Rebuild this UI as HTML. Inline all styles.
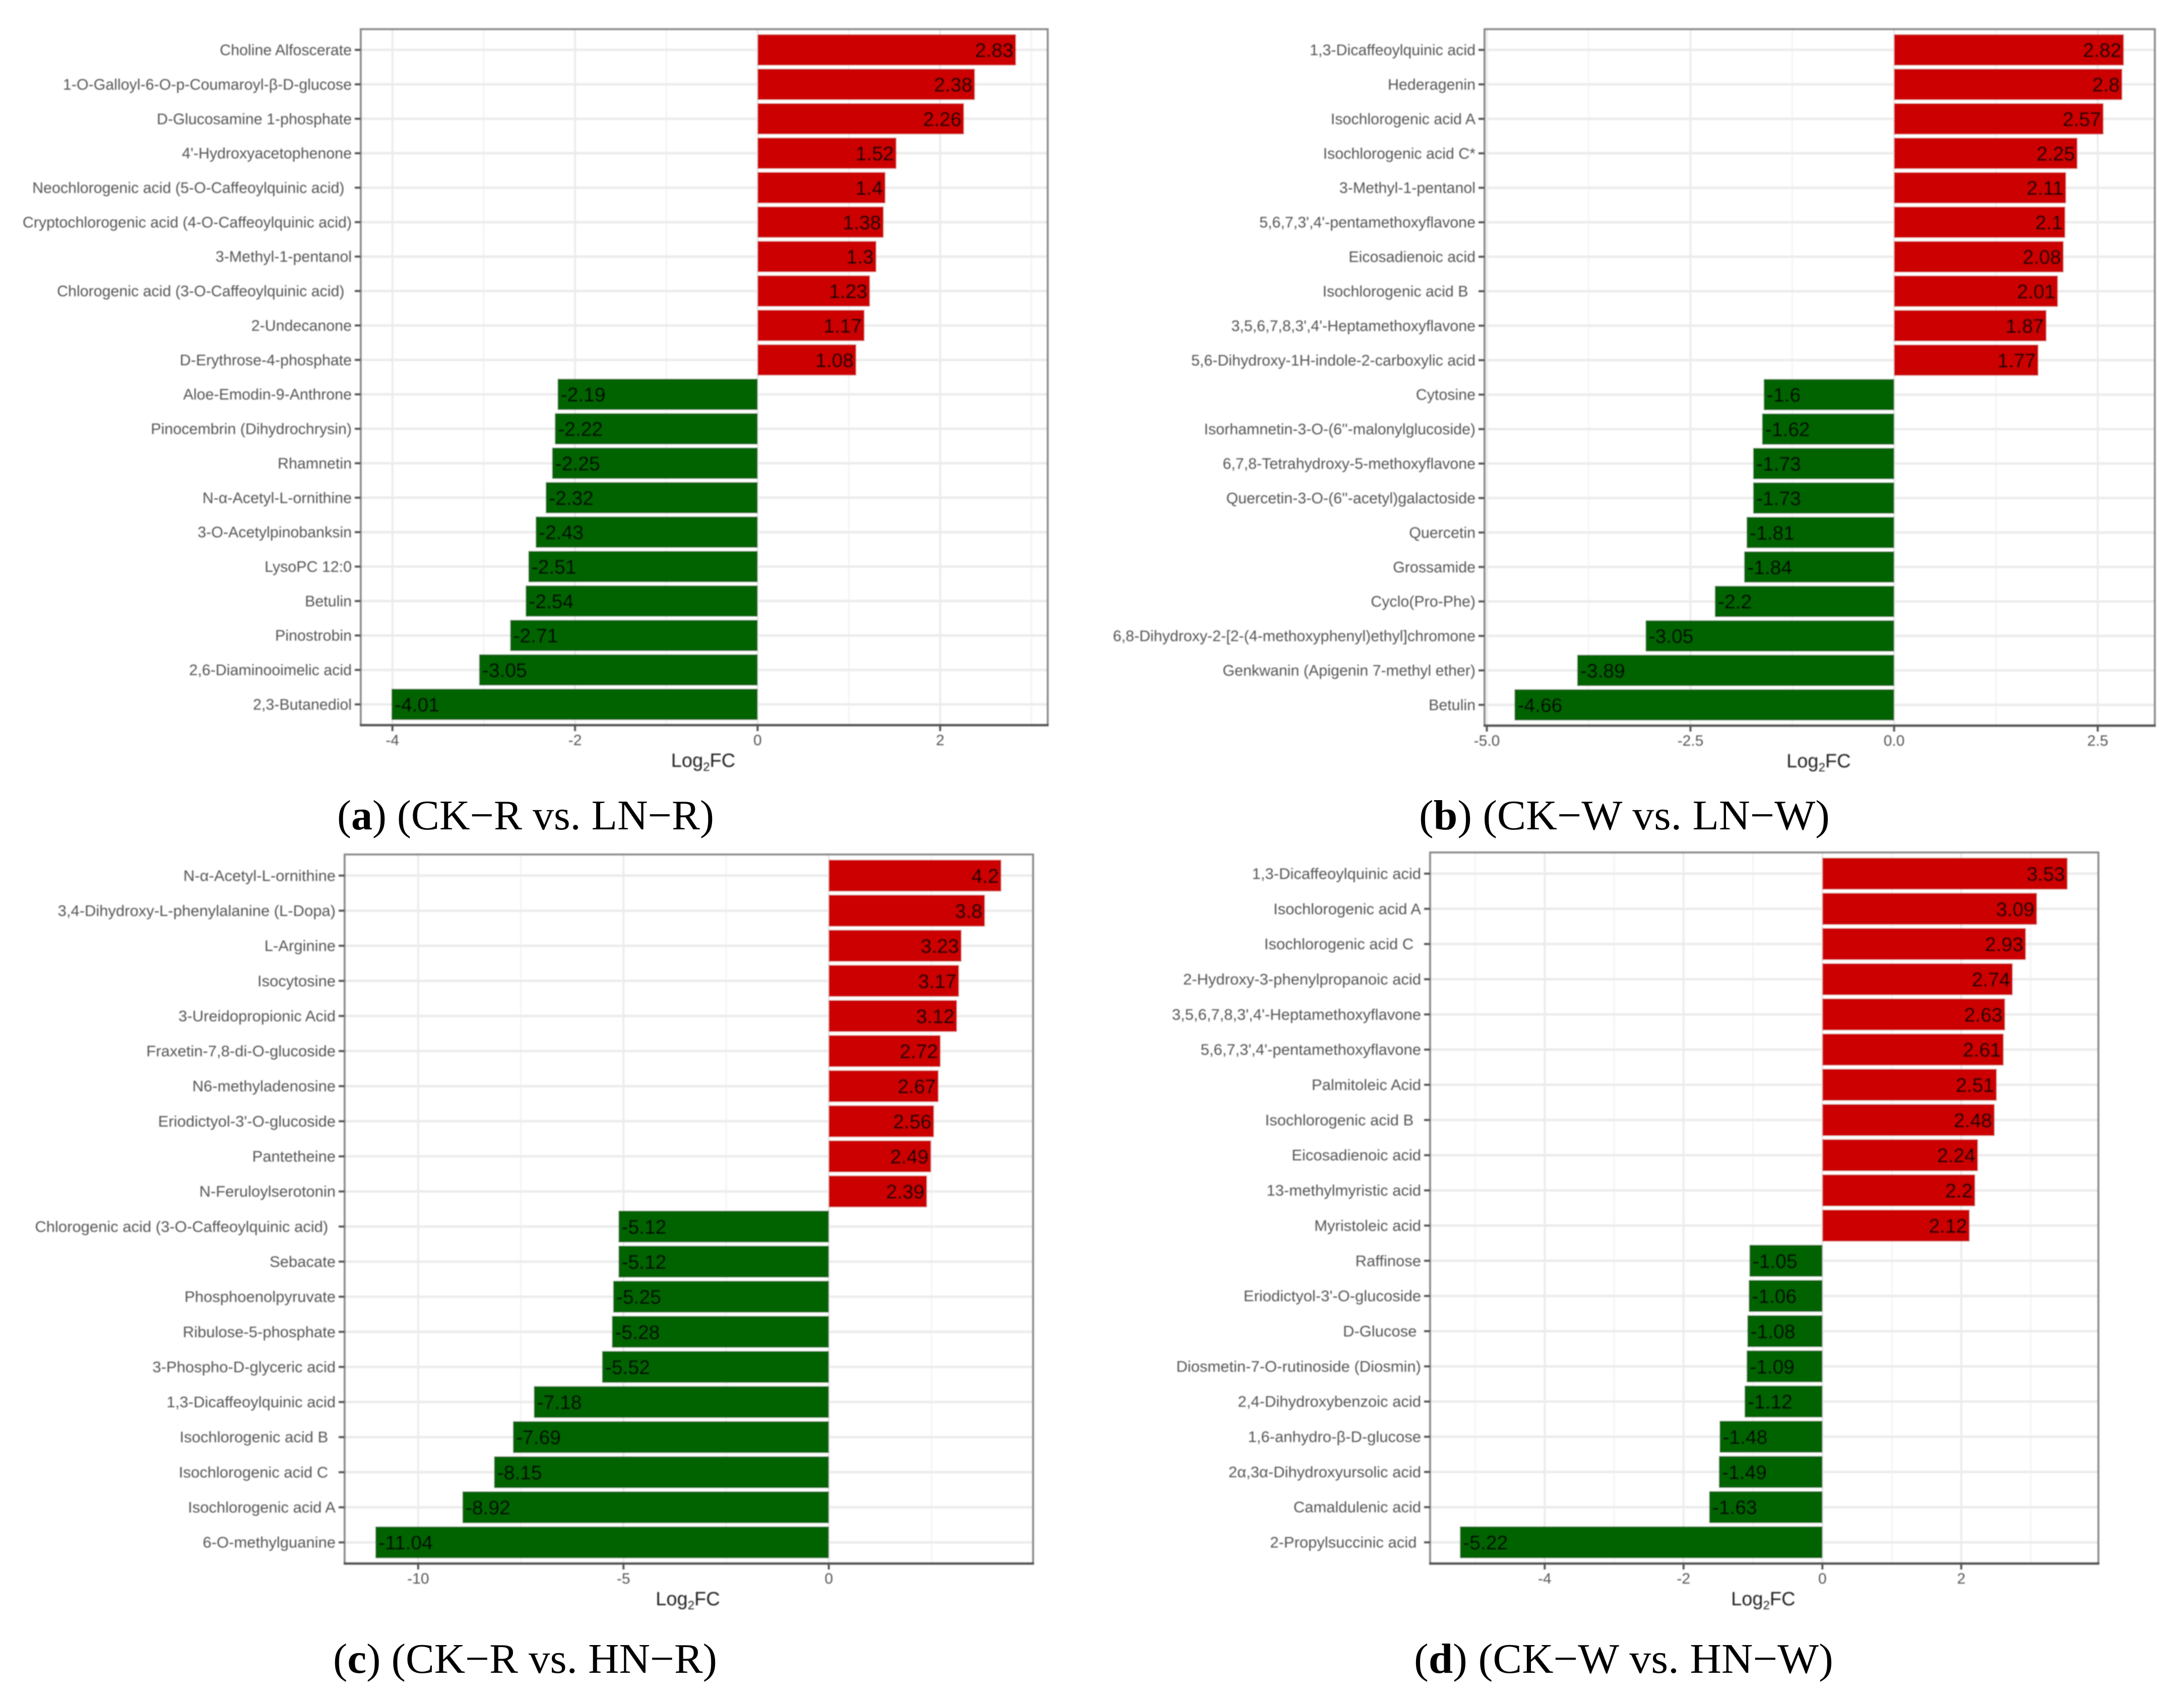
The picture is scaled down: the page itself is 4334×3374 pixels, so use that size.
<!DOCTYPE html>
<html lang="en">
<head>
<meta charset="utf-8">
<title>Differential metabolites Log2FC bar charts</title>
<style>
html,body{margin:0;padding:0;background:#fff;}
body{width:4334px;height:3374px;overflow:hidden;}
svg{display:block;}
.cat{font-family:"Liberation Sans",sans-serif;fill:#555;text-anchor:end;}
.tick{font:30px "Liberation Sans",sans-serif;fill:#555;text-anchor:middle;}
.val{font:39px "Liberation Sans",sans-serif;fill:#000;stroke:#000;stroke-width:.5px;}
.title{font:38px "Liberation Sans",sans-serif;fill:#222;text-anchor:middle;}
.cap{font:84px "Liberation Serif",serif;fill:#000;}
.cap .b{font-weight:bold;}
</style>
</head>
<body>
<svg id="figure" xmlns="http://www.w3.org/2000/svg" width="4334" height="3374" viewBox="0 0 4334 3374">
  <defs>
    <filter id="soft" filterUnits="userSpaceOnUse" x="0" y="0" width="4334" height="3374">
      <feGaussianBlur stdDeviation="1.1"/>
    </filter>
  </defs>
  <rect x="0" y="0" width="4334" height="3374" fill="#fff"/>
  <g id="charts" filter="url(#soft)"></g>
  <text class="cap" x="669" y="1646" textLength="748" lengthAdjust="spacingAndGlyphs">(<tspan class="b">a</tspan>) (CK−R vs. LN−R)</text>
  <text class="cap" x="2816" y="1646" textLength="815" lengthAdjust="spacingAndGlyphs">(<tspan class="b">b</tspan>) (CK−W vs. LN−W)</text>
  <text class="cap" x="661" y="3320" textLength="762" lengthAdjust="spacingAndGlyphs">(<tspan class="b">c</tspan>) (CK−R vs. HN−R)</text>
  <text class="cap" x="2806" y="3320" textLength="832" lengthAdjust="spacingAndGlyphs">(<tspan class="b">d</tspan>) (CK−W vs. HN−W)</text>
</svg>
<script>
const categoriesA = ["Choline Alfoscerate","1-O-Galloyl-6-O-p-Coumaroyl-β-D-glucose","D-Glucosamine 1-phosphate","4'-Hydroxyacetophenone","Neochlorogenic acid (5-O-Caffeoylquinic acid)\u00a0\u2009","Cryptochlorogenic acid (4-O-Caffeoylquinic acid)","3-Methyl-1-pentanol","Chlorogenic acid (3-O-Caffeoylquinic acid)\u00a0\u2009","2-Undecanone","D-Erythrose-4-phosphate","Aloe-Emodin-9-Anthrone","Pinocembrin (Dihydrochrysin)","Rhamnetin","N-α-Acetyl-L-ornithine","3-O-Acetylpinobanksin","LysoPC 12:0","Betulin","Pinostrobin","2,6-Diaminooimelic acid","2,3-Butanediol"];
const valuesA = [2.83,2.38,2.26,1.52,1.4,1.38,1.3,1.23,1.17,1.08,-2.19,-2.22,-2.25,-2.32,-2.43,-2.51,-2.54,-2.71,-3.05,-4.01];
const tickLabelsA = ["-4","-2","0","2"];

const categoriesB = ["1,3-Dicaffeoylquinic acid","Hederagenin","Isochlorogenic acid A","Isochlorogenic acid C*","3-Methyl-1-pentanol","5,6,7,3',4'-pentamethoxyflavone","Eicosadienoic acid","Isochlorogenic acid B\u00a0\u2009","3,5,6,7,8,3',4'-Heptamethoxyflavone","5,6-Dihydroxy-1H-indole-2-carboxylic acid","Cytosine","Isorhamnetin-3-O-(6''-malonylglucoside)","6,7,8-Tetrahydroxy-5-methoxyflavone","Quercetin-3-O-(6''-acetyl)galactoside","Quercetin","Grossamide","Cyclo(Pro-Phe)","6,8-Dihydroxy-2-[2-(4-methoxyphenyl)ethyl]chromone","Genkwanin (Apigenin 7-methyl ether)","Betulin"];
const valuesB = [2.82,2.8,2.57,2.25,2.11,2.1,2.08,2.01,1.87,1.77,-1.6,-1.62,-1.73,-1.73,-1.81,-1.84,-2.2,-3.05,-3.89,-4.66];
const tickLabelsB = ["-5.0","-2.5","0.0","2.5"];

const categoriesC = ["N-α-Acetyl-L-ornithine","3,4-Dihydroxy-L-phenylalanine (L-Dopa)","L-Arginine","Isocytosine","3-Ureidopropionic Acid","Fraxetin-7,8-di-O-glucoside","N6-methyladenosine","Eriodictyol-3'-O-glucoside","Pantetheine","N-Feruloylserotonin","Chlorogenic acid (3-O-Caffeoylquinic acid)\u00a0\u2009","Sebacate","Phosphoenolpyruvate","Ribulose-5-phosphate","3-Phospho-D-glyceric acid","1,3-Dicaffeoylquinic acid","Isochlorogenic acid B\u00a0\u2009","Isochlorogenic acid C\u00a0\u2009","Isochlorogenic acid A","6-O-methylguanine"];
const valuesC = [4.2,3.8,3.23,3.17,3.12,2.72,2.67,2.56,2.49,2.39,-5.12,-5.12,-5.25,-5.28,-5.52,-7.18,-7.69,-8.15,-8.92,-11.04];
const tickLabelsC = ["-10","-5","0"];

const categoriesD = ["1,3-Dicaffeoylquinic acid","Isochlorogenic acid A","Isochlorogenic acid C\u00a0\u2009","2-Hydroxy-3-phenylpropanoic acid","3,5,6,7,8,3',4'-Heptamethoxyflavone","5,6,7,3',4'-pentamethoxyflavone","Palmitoleic Acid","Isochlorogenic acid B\u00a0\u2009","Eicosadienoic acid","13-methylmyristic acid","Myristoleic acid","Raffinose","Eriodictyol-3'-O-glucoside","D-Glucose\u00a0","Diosmetin-7-O-rutinoside (Diosmin)","2,4-Dihydroxybenzoic acid","1,6-anhydro-β-D-glucose","2α,3α-Dihydroxyursolic acid","Camaldulenic acid","2-Propylsuccinic acid\u00a0"];
const valuesD = [3.53,3.09,2.93,2.74,2.63,2.61,2.51,2.48,2.24,2.2,2.12,-1.05,-1.06,-1.08,-1.09,-1.12,-1.48,-1.49,-1.63,-5.22];
const tickLabelsD = ["-4","-2","0","2"];

const NS = 'http://www.w3.org/2000/svg';
const root = document.getElementById('charts');

function svgEl(tag, attrs, parent, text) {
  const el = document.createElementNS(NS, tag);
  for (const k in attrs) el.setAttribute(k, attrs[k]);
  if (text !== undefined) el.textContent = text;
  parent.appendChild(el);
  return el;
}

function drawPanel(id, categories, values, tickLabels, left, right, top, bottom, catFont) {
  const g = svgEl('g', {}, root);
  
  

  // continuous axis: data extent (with zero) expanded by 5%
  const lo = Math.min(0, ...values), hi = Math.max(0, ...values);
  const pad = (hi - lo) * 0.05;
  const dMin = lo - pad, dMax = hi + pad;
  const xScale = v => left - 1 + (v - dMin) / (dMax - dMin) * (right - left);

  // discrete axis: 0.6 band expansion at each end
  const n = categories.length;
  const band = (bottom - top) / (n - 1 + 1.2);
  const yScale = i => top + (0.6 + i) * band;
  const zero = xScale(0);

  // panel background
  const bg = svgEl('rect', {x:left, y:top, width:right-left, height:bottom-top, fill:'#fff'}, g);
  
  

  // minor vertical grid
  const tickVals = tickLabels.map(parseFloat);
  const step = tickVals[1] - tickVals[0];
  for (let m = tickVals[0] - step / 2; m < dMax; m += step) {
    if (m <= dMin) continue;
    const line = svgEl('line', {x1:xScale(m), x2:xScale(m), y1:top, y2:bottom, stroke:'#f4f4f4', 'stroke-width':3}, g);
    
    
  }
  // major vertical grid
  tickVals.forEach(v => {
    const line = svgEl('line', {x1:xScale(v), x2:xScale(v), y1:top, y2:bottom, stroke:'#ececec', 'stroke-width':4}, g);
    
    
  });
  // horizontal grid
  categories.forEach((c, i) => {
    const line = svgEl('line', {x1:left, x2:right, y1:yScale(i), y2:yScale(i), stroke:'#ececec', 'stroke-width':5}, g);
    
    
  });

  // bars
  values.forEach((v, i) => {
    const x0 = Math.min(xScale(v), zero), x1 = Math.max(xScale(v), zero);
    const h = band * 0.9;
    const bar = svgEl('rect', {x:x0, y:yScale(i)-h/2, width:x1-x0, height:h, fill: v >= 0 ? '#CC0000' : '#006400'}, g);
    
    
  });

  // value labels
  values.forEach((v, i) => {
    const pos = v >= 0;
    const t = svgEl('text', {class:'val', x: xScale(v) + (pos ? -5 : 6), y: yScale(i) + 14, 'text-anchor': pos ? 'end' : 'start'}, g, String(v));
    
    
  });

  // panel border
  const border = svgEl('rect', {x:left, y:top, width:right-left, height:bottom-top, fill:'none', stroke:'#8a8a8a', 'stroke-width':4}, g);
  
  
  const axisLine = svgEl('line', {x1:left-2, x2:right+2, y1:bottom, y2:bottom, stroke:'#555', 'stroke-width':5}, g);
  
  

  // y axis ticks + labels
  categories.forEach((c, i) => {
    const tk = svgEl('line', {x1:left-12, x2:left, y1:yScale(i), y2:yScale(i), stroke:'#555', 'stroke-width':4}, g);
    
    
    const t = svgEl('text', {class:'cat', x:left-18, y:yScale(i)+10.5, 'font-size':catFont}, g, c);
    
    
  });

  // x axis ticks + labels
  tickLabels.forEach(lbl => {
    const xp = xScale(parseFloat(lbl));
    const tk = svgEl('line', {x1:xp, x2:xp, y1:bottom, y2:bottom+12, stroke:'#555', 'stroke-width':4}, g);
    
    
    const t = svgEl('text', {class:'tick', x:xp, y:bottom+40}, g, lbl);
    
    
  });

  // x axis title
  const title = svgEl('text', {class:'title', x:(left+right)/2-2, y:bottom+83}, g);
  
  
  svgEl('tspan', {}, title, 'Log');
  svgEl('tspan', {dy:8, 'font-size':24}, title, '2');
  svgEl('tspan', {dy:-8}, title, 'FC');
}

drawPanel('a', categoriesA, valuesA, tickLabelsA, 716, 2079, 58, 1439, 30.4);
drawPanel('b', categoriesB, valuesB, tickLabelsB, 2946, 4276, 58, 1440, 30.4);
drawPanel('c', categoriesC, valuesC, tickLabelsC, 684, 2050, 1696, 3103, 31);
drawPanel('d', categoriesD, valuesD, tickLabelsD, 2838, 4164, 1692, 3103, 31);
</script>
</body>
</html>
